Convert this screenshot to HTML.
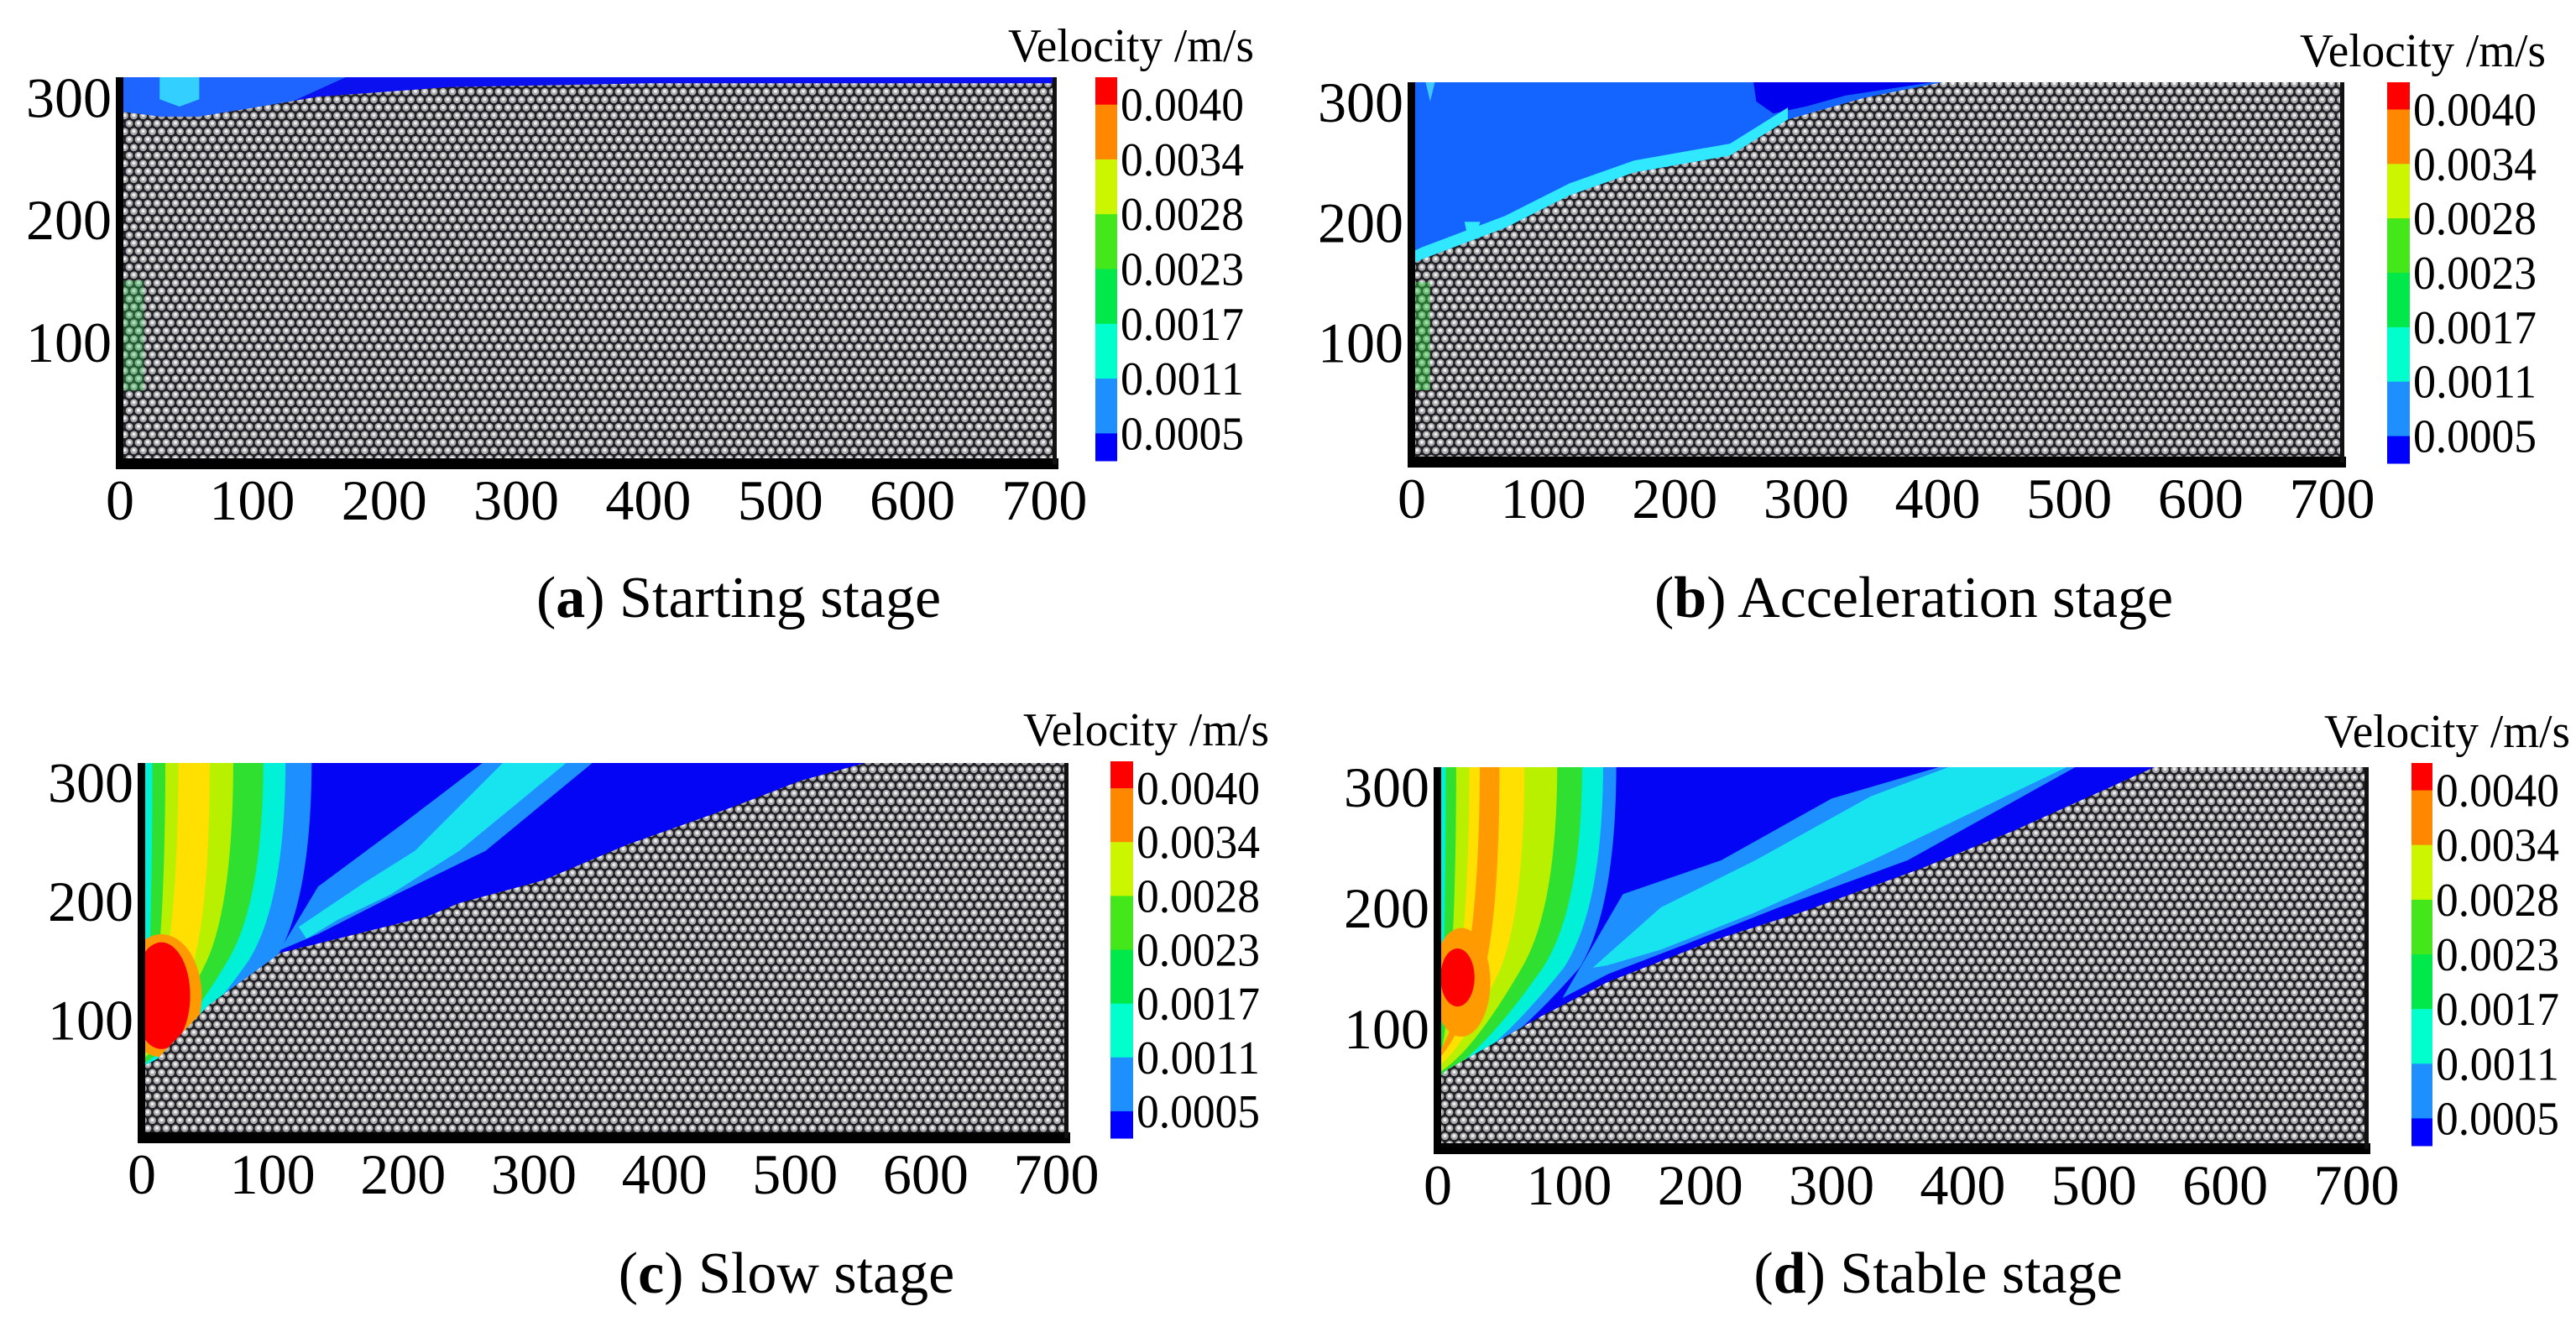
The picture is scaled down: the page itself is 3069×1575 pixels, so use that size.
<!DOCTYPE html>
<html><head><meta charset="utf-8">
<style>
html,body{margin:0;padding:0;background:#fff;width:3069px;height:1575px;overflow:hidden}
svg{display:block}
svg text{font-family:"Liberation Serif","DejaVu Serif",serif;fill:#000}
</style></head>
<body>
<svg id="fig" xmlns="http://www.w3.org/2000/svg" width="3069" height="1575" viewBox="0 0 3069 1575" font-family="Liberation Serif, DejaVu Serif, serif">
<defs>
<pattern id="pp" width="11" height="19" patternUnits="userSpaceOnUse">
<rect width="11" height="19" fill="#202026"/>
<circle cx="5.5" cy="4.75" r="4.4" fill="#a9a9ab"/>
<circle cx="0" cy="14.25" r="4.4" fill="#a9a9ab"/>
<circle cx="11" cy="14.25" r="4.4" fill="#a9a9ab"/>
<circle cx="5.5" cy="4.2" r="2" fill="#f0f0f0"/>
<circle cx="0" cy="13.7" r="2" fill="#f0f0f0"/>
<circle cx="11" cy="13.7" r="2" fill="#f0f0f0"/>
</pattern>
</defs>
</svg>
<script>
// ---- data ----
const xTicks = [0,100,200,300,400,500,600,700];
const yTicks = [100,200,300];
const cbLabels = ["0.0040","0.0034","0.0028","0.0023","0.0017","0.0011","0.0005"];
const bandColors = ["#ff0000","#ff8800","#ccf500","#44e81a","#00e84a","#00ffcc","#1e8fff","#0000ff"];
const surfA = [[0,288],[30,284],[60,284],[100,291],[150,300],[250,308],[400,311],[708,311]];
const surfB = [[0,165],[8,169],[71,195],[120,222],[169,241],[242,255],[286,285],[344,303],[413,318]];
const surfC = [[0,60],[12,67],[51,112],[106,156],[219,187],[243,198],[307,217],[371,247],[450,278],[504,301],[560,318]];
const surfD = [[0,58],[6,65],[79,110],[129,138],[211,173],[280,197],[368,232],[438,263],[495,291],[550,318]];
// plume levels: [leftTop, rightTop, rightMid(y=150), bottomY]
const plumeC = [[0,130,102,55],[0,110,82,58],[8,93,66,62],[18,70,50,66],[28,52,40,72]];
const plumeD = [[0,136,108,55],[0,126,96,57],[6,110,80,60],[14,91,64,63],[24,66,48,68],[32,47,36,74]];
const plumeColors = ["#1e8fff","#00f0d8","#30e030","#b8f000","#ffe000","#ff9a00"];
// diagonal band (outer light-blue, inner cyan) polygons in data units
const diagCOuter = [[90,130],[135,212],[200,265],[263,318],[347,318],[263,242],[194,205],[135,172],[105,158]];
const diagCInner = [[120,178],[170,215],[209,242],[278,318],[327,318],[243,242],[190,205],[150,184],[126,168]];
const diagDOuter = [[95,125],[141,211],[216,239],[300,290],[388,318],[489,318],[358,239],[260,200],[190,170],[130,145]];
const diagDInner = [[118,150],[170,200],[242,239],[330,292],[394,318],[483,318],[331,239],[240,195],[170,165],[129,152]];
const redC = [15,120,22,45];
const redD = [15,142,13,24];
const orangeD = [18,138,22,45];

const panels = [
 {id:"a", L:143,R:1257,T:92,B:553, cb:[1305,92,26,457], cap:"a", capText:") Starting stage", cx:880, cy:735, surf:surfA},
 {id:"b", L:1682,R:2791,T:98,B:551, cb:[2844,98,27,454], cap:"b", capText:") Acceleration stage", cx:2280, cy:735, surf:surfB},
 {id:"c", L:169,R:1271,T:909,B:1356, cb:[1323,907,27,449], cap:"c", capText:") Slow stage", cx:937, cy:1540, surf:surfC},
 {id:"d", L:1713,R:2820,T:914,B:1369, cb:[2873,909,25,456], cap:"d", capText:") Stable stage", cx:2309, cy:1540, surf:surfD}
];

const NS = "http://www.w3.org/2000/svg";
const svg = document.getElementById("fig");
function mk(tag, attrs, parent){
  const e = document.createElementNS(NS, tag);
  for (const k in attrs) e.setAttribute(k, attrs[k]);
  (parent||svg).appendChild(e);
  return e;
}
const FF = "Liberation Serif, DejaVu Serif, serif";

panels.forEach(P => {
  const xs = v => P.L + v/708*(P.R-P.L);
  const ys = v => P.B - v/316*(P.B-P.T);
  const pts = arr => arr.map(p => xs(p[0]).toFixed(1)+","+ys(p[1]).toFixed(1)).join(" ");

  const g = mk("g", {});
  
  

  const defs = mk("defs", {}, g);
  const cp = mk("clipPath", {id:"clip-"+P.id}, defs);
  mk("rect", {x:P.L, y:P.T, width:P.R-P.L, height:P.B-P.T}, cp);
  const fluidPts = P.surf.concat([[P.surf[P.surf.length-1][0],330],[0,330]]);
  const cpf = mk("clipPath", {id:"fclip-"+P.id}, defs);
  mk("polygon", {points:pts(fluidPts)}, cpf);

  const area = mk("g", {"clip-path":"url(#clip-"+P.id+")"}, g);
  const particles = mk("rect", {x:P.L, y:P.T, width:P.R-P.L, height:P.B-P.T, fill:"url(#pp)"}, area);
  
  

  const fl = mk("g", {"clip-path":"url(#fclip-"+P.id+")"}, area);
  
  

  if (P.id === "a") {
    mk("rect", {x:P.L, y:P.T-20, width:P.R-P.L, height:P.B-P.T, fill:"#0a10f0"}, fl);
    mk("polygon", {points:pts([[0,330],[0,280],[40,280],[90,288],[130,296],[175,318],[175,330]]), fill:"#1e64ff"}, fl);
    mk("polygon", {points:pts([[30,318],[30,298],[45,292],[60,298],[60,318]]), fill:"#33d0ff"}, fl);
    mk("rect", {x:xs(0), y:ys(150), width:xs(18)-xs(0), height:ys(60)-ys(150), fill:"#2ec850", opacity:0.35}, area);
  } else if (P.id === "b") {
    mk("rect", {x:P.L, y:P.T-20, width:P.R-P.L, height:P.B-P.T, fill:"#1464ff"}, fl);
    mk("polygon", {points:pts([[258,330],[262,300],[275,290],[300,296],[330,305],[420,320],[420,330]]), fill:"#0000ee"}, fl);
    const strip = surfB.slice(0,7).map(p => [p[0], p[1]+10]).concat(surfB.slice(0,7).reverse());
    mk("polygon", {points:pts(strip), fill:"#30e8ff"}, fl);
    mk("polygon", {points:pts([[10,318],[14,300],[18,318]]), fill:"#40c8ff"}, fl);
    mk("polygon", {points:pts([[40,200],[45,175],[52,200]]), fill:"#30e8ff"}, fl);
    mk("rect", {x:xs(0), y:ys(150), width:xs(14)-xs(0), height:ys(60)-ys(150), fill:"#30d040", opacity:0.45}, area);
  } else {
    const plume = P.id === "c" ? plumeC : plumeD;
    const outer = P.id === "c" ? diagCOuter : diagDOuter;
    const inner = P.id === "c" ? diagCInner : diagDInner;
    mk("rect", {x:P.L, y:P.T-20, width:P.R-P.L, height:P.B-P.T, fill:"#0505f5"}, fl);
    mk("polygon", {points:pts(outer), fill:"#1e8fff"}, fl);
    mk("polygon", {points:pts(inner), fill:"#18e4f0"}, fl);
    plume.forEach((lv, i) => {
      const [lt, rt, rm, bot] = lv;
      const d = "M"+xs(lt)+","+ys(320)+" L"+xs(rt)+","+ys(320)+
        " Q"+xs(rt)+","+ys(200)+" "+xs(rm)+","+ys(150)+
        " Q"+xs(rm*0.4)+","+ys(bot+15)+" "+xs(0)+","+ys(bot)+
        " L"+xs(0)+","+ys(bot+4)+
        " Q"+xs(lt)+","+ys(bot+60)+" "+xs(lt)+","+ys(320)+" Z";
      const pe = mk("path", {d:d, fill:plumeColors[i]}, fl);
      
      
    });
    if (P.id === "c") {
      mk("ellipse", {cx:xs(redC[0]), cy:ys(redC[1]), rx:(xs(redC[2])-xs(0))*1.4, ry:(ys(0)-ys(redC[3]))*1.15, fill:"#ff9a00"}, fl);
      mk("ellipse", {cx:xs(redC[0]), cy:ys(redC[1]), rx:xs(redC[2])-xs(0), ry:ys(0)-ys(redC[3]), fill:"#ff0000"}, fl);
    } else {
      mk("ellipse", {cx:xs(orangeD[0]), cy:ys(orangeD[1]), rx:xs(orangeD[2])-xs(0), ry:ys(0)-ys(orangeD[3]), fill:"#ff9a00"}, fl);
      mk("ellipse", {cx:xs(redD[0]), cy:ys(redD[1]), rx:xs(redD[2])-xs(0), ry:ys(0)-ys(redD[3]), fill:"#ff0000"}, fl);
    }
  }

  // frame
  mk("rect", {x:P.L-5, y:P.T, width:9, height:P.B-P.T+6, fill:"#000"}, g);
  mk("rect", {x:P.L-5, y:P.B-7, width:P.R-P.L+9, height:13, fill:"#000"}, g);
  mk("rect", {x:P.R-3, y:P.T, width:5, height:P.B-P.T, fill:"#111"}, g);

  // ticks
  xTicks.forEach(v => {
    const t = mk("text", {x:xs(v), y:P.B+66, "font-size":68, "font-family":FF, "text-anchor":"middle"}, g);
    t.textContent = v;
    
    
  });
  yTicks.forEach(v => {
    const t = mk("text", {x:P.L-10, y:ys(v)+24, "font-size":68, "font-family":FF, "text-anchor":"end"}, g);
    t.textContent = v;
    
    
  });

  // colorbar
  const [cx, cy, cw, ch] = P.cb;
  const step = ch/7;
  bandColors.forEach((c, i) => {
    const y0 = i === 0 ? cy : cy + step*(i-0.5);
    const y1 = i === 7 ? cy+ch : cy + step*(i+0.5);
    const r = mk("rect", {x:cx, y:y0, width:cw, height:y1-y0+0.5, fill:c}, g);
    
    
  });
  cbLabels.forEach((lab, i) => {
    const yc = cy + step*(i+0.5);
    const t = mk("text", {x:cx+cw+4, y:yc+19, "font-size":56, "font-family":FF, textLength:147, lengthAdjust:"spacingAndGlyphs"}, g);
    t.textContent = lab;
    
    
  });
  const vt = mk("text", {x:cx-104, y:cy-19, "font-size":56, "font-family":FF, textLength:293, lengthAdjust:"spacingAndGlyphs"}, g);
  vt.textContent = "Velocity /m/s";
  
  

  // caption
  const cap = mk("text", {x:P.cx, y:P.cy, "font-size":70, "font-family":FF, "text-anchor":"middle"}, g);
  
  
  const s1 = mk("tspan", {}, cap); s1.textContent = "(";
  const s2 = mk("tspan", {"font-weight":"bold"}, cap); s2.textContent = P.cap;
  const s3 = mk("tspan", {}, cap); s3.textContent = P.capText;
});
</script>
</body></html>
